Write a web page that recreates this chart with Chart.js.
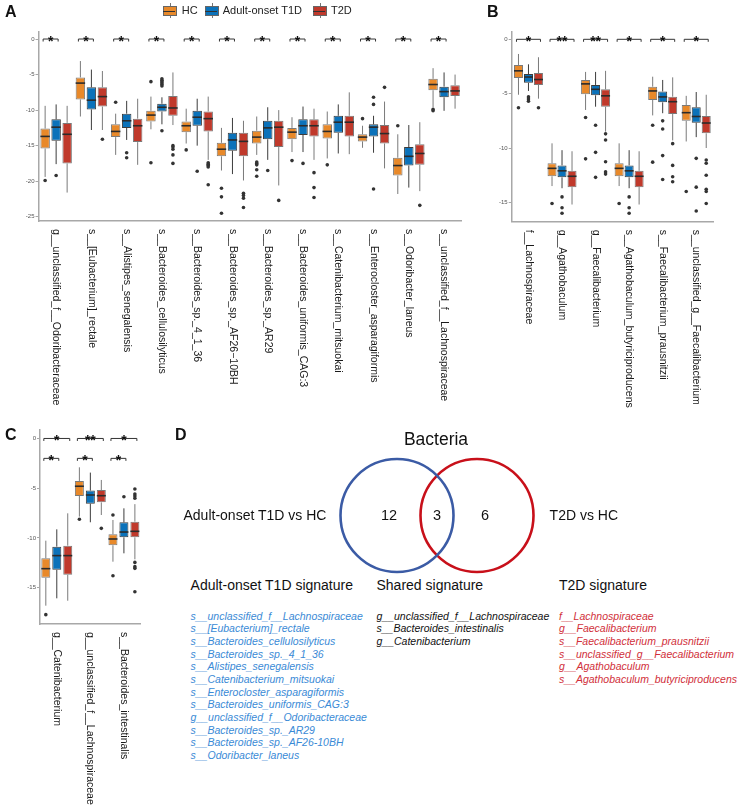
<!DOCTYPE html>
<html>
<head>
<meta charset="utf-8">
<script src="https://cdn.jsdelivr.net/npm/chart.js@4.4.1/dist/chart.umd.min.js"></script>
<style>
  body { margin: 0; background: #fff; font-family: "Liberation Sans", Arial, sans-serif; }
  #page { position: relative; width: 738px; height: 806px; overflow: hidden; }
  canvas { position: absolute; }
  .t { position: absolute; white-space: nowrap; color: #111; }
  .panel { font-weight: bold; font-size: 16px; line-height: 18px; }
  .leg { font-size: 11px; line-height: 13px; color: #222; }
  .icon { position: absolute; width: 14px; height: 15px; }
  .icon .wh { position: absolute; left: 6.5px; top: 0; width: 1px; height: 15px; background: #777; }
  .icon .bx { position: absolute; left: 0; top: 3px; width: 12px; height: 8px; border: 1px solid #666; }
  .icon .md { position: absolute; left: 0; top: 3.5px; width: 12px; height: 1.5px; background: #333; }
  .list { font-style: italic; font-size: 10.5px; line-height: 12.65px; }
</style>
</head>
<body>
<div id="page">
  <canvas id="chartA" width="480" height="430" style="left:0;top:0"></canvas>
  <canvas id="chartB" width="258" height="430" style="left:480px;top:0"></canvas>
  <canvas id="chartC" width="160" height="381" style="left:0;top:425px"></canvas>
  <canvas id="chartD" width="280" height="121" style="left:297px;top:455px"></canvas>
</div>
<script>
// ---- data (log abundance) ----
const groups = ['HC', 'Adult-onset T1D', 'T2D'];
const groupColors = ['#E8892A', '#0B72BA', '#C0392B'];
const groupLines = ['#7a7a7a', '#3c3c3c', '#7a7a7a'];

const catsA = ['g__unclassified_f__Odoribacteraceae', 's__[Eubacterium]_rectale', 's__Alistipes_senegalensis',
  's__Bacteroides_cellulosilyticus', 's__Bacteroides_sp._4_1_36', 's__Bacteroides_sp._AF26\u221210BH',
  's__Bacteroides_sp._AR29', 's__Bacteroides_uniformis_CAG:3', 's__Catenibacterium_mitsuokai',
  's__Enterocloster_asparagiformis', 's__Odoribacter_laneus', 's__unclassified_f__Lachnospiraceae'];
// [lower whisker, q1, median, q3, upper whisker]
const hcA = [[-19.4,-15.4,-13.7,-12.6,-9.4],[-10.9,-8.5,-6.2,-5.4,-3.1],[-16.3,-13.8,-13.0,-12.0,-10.5],
  [-12.7,-11.6,-10.7,-10.1,-8.1],[-14.7,-13.1,-12.2,-11.6,-9.8],[-18.5,-16.5,-15.5,-14.6,-12.5],
  [-16.3,-14.7,-13.8,-12.9,-10.9],[-15.9,-14.1,-13.1,-12.5,-11.0],[-16.8,-14.0,-13.0,-12.0,-10.2],
  [-15.3,-14.4,-13.8,-13.4,-12.2],[-21.8,-19.2,-17.8,-16.7,-13.4],[-9.6,-7.2,-6.4,-5.6,-4.1]];
const t1dA = [[-17.6,-14.3,-12.4,-11.3,-9.2],[-12.8,-9.9,-8.6,-6.8,-4.3],[-14.2,-12.5,-11.5,-10.5,-8.7],
  [-12.0,-10.2,-9.6,-9.1,-8.2],[-15.0,-12.2,-11.0,-10.1,-8.4],[-19.0,-15.7,-14.2,-13.2,-11.1],
  [-17.0,-14.1,-12.5,-11.5,-9.6],[-15.9,-13.5,-12.2,-11.3,-9.5],[-16.1,-13.2,-11.7,-10.8,-9.2],
  [-16.0,-13.7,-12.4,-12.0,-10.8],[-20.9,-17.8,-16.5,-15.2,-12.1],[-10.1,-8.2,-7.4,-6.7,-4.7]];
const t2dA = [[-21.6,-17.5,-13.4,-11.8,-9.4],[-12.8,-9.5,-8.1,-6.8,-4.5],[-17.7,-14.5,-12.2,-11.2,-8.4],
  [-12.1,-10.8,-9.7,-8.0,-4.7],[-17.0,-13.0,-11.2,-10.2,-8.1],[-19.9,-16.5,-14.4,-13.2,-11.5],
  [-20.6,-15.2,-12.4,-11.5,-10.0],[-17.0,-13.7,-12.2,-11.3,-9.8],[-16.2,-13.7,-11.7,-10.8,-7.5],
  [-18.2,-14.7,-13.3,-12.1,-8.8],[-21.4,-17.7,-16.1,-14.8,-11.7],[-9.8,-8.0,-7.3,-6.5,-5.0]];
const hcOutA = [[-19.9],[],[-8.9],[-6.0,-17.4],[-15.6],[-21.0,-22.2,-24.5],[-17.3,-17.5,-17.7,-18.4,-19.3],
  [-17.1],[-17.7],[-11.2],[-12.2],[-9.9,-10.1]];
const t1dOutA = [[-19.2],[],[-16.0,-16.7],[-5.6,-5.8,-6.0,-6.2,-6.4,-6.6,-12.9],[-18.6],[],[-18.5],
  [-17.5],[],[-8.2,-9.2,-21.1],[],[]];
const t2dOutA = [[],[-14.1],[],[-15.0,-15.2,-15.5,-16.3,-17.5],[-17.4,-17.6,-17.8,-18.0,-20.5],
  [-21.7,-22.0,-22.4,-23.7],[-22.7],[-18.8,-20.9,-22.3],[],[-6.8],[-23.4],[]];
const sigA = ['*','*','*','*','*','*','*','*','*','*','*','*'];
const ticksA = [0, -5, -10, -15, -20, -25];

const catsB = ['f__Lachnospiraceae', 'g__Agathobaculum', 'g__Faecalibacterium',
  's__Agathobaculum_butyriciproducens', 's__Faecalibacterium_prausnitzii', 's__unclassified_g__Faecalibacterium'];
const hcB = [[-5.1,-3.56,-2.9,-2.36,-1.35],[-13.5,-12.6,-11.87,-11.4,-9.57],[-6.5,-5.06,-4.1,-3.74,-3.0],
  [-13.5,-12.6,-11.87,-11.4,-9.57],[-7.0,-5.58,-4.75,-4.36,-3.44],[-9.4,-7.5,-6.75,-6.04,-5.2]];
const t1dB = [[-4.75,-4.0,-3.47,-3.2,-2.3],[-13.7,-12.7,-12.1,-11.6,-10.2],[-6.2,-5.15,-4.6,-4.2,-3.0],
  [-13.7,-12.7,-12.1,-11.6,-10.2],[-6.8,-5.8,-5.3,-4.8,-3.74],[-9.0,-7.67,-7.1,-6.26,-4.85]];
const t2dB = [[-5.46,-4.2,-3.7,-3.1,-1.65],[-15.2,-13.6,-12.6,-12.1,-10.3],[-8.5,-6.2,-5.2,-4.6,-2.9],
  [-15.2,-13.6,-12.6,-12.1,-10.3],[-9.3,-6.87,-5.74,-5.28,-3.5],[-10.0,-8.65,-7.7,-7.05,-5.1]];
const hcOutB = [[-6.3],[-15.1],[-7.2,-11.0],[-15.1],[-7.9,-11.3],[-14.0]];
const t1dOutB = [[-5.3,-5.5,-5.7],[-14.5,-15.5,-16.0],[-7.9,-10.4,-12.7],[-14.5,-15.5,-16.0],
  [-7.5,-8.25,-10.7,-12.9],[-10.95,-13.6,-15.8]];
const t2dOutB = [[-6.3],[],[-8.7,-9.26,-11.26,-12.2,-12.4],[],[-9.6,-11.6,-12.64,-13.1],
  [-11.1,-11.4,-12.5,-13.8,-14.0,-15.1]];
const sigB = ['*','**','**','*','*','*'];
const ticksB = [0, -5, -10, -15];

const catsC = ['g__Catenibacterium', 'g__unclassified_f__Lachnospiraceae', 's__Bacteroides_intestinalis'];
const hcC = [[-16.8,-14.0,-13.08,-12.04,-10.27],[-7.85,-5.78,-4.8,-4.27,-2.9],[-12.38,-10.73,-10.1,-9.63,-8.19]];
const t1dC = [[-16.06,-13.2,-11.77,-10.87,-9.13],[-8.42,-6.55,-5.68,-5.24,-3.43],[-11.54,-9.93,-9.4,-8.43,-7.02]];
const t2dC = [[-16.3,-13.7,-11.77,-10.77,-7.52],[-7.69,-6.42,-5.75,-5.18,-4.17],[-12.14,-9.93,-9.33,-8.36,-6.6]];
const hcOutC = [[-17.7],[-8.12],[-7.69,-13.8]];
const t1dOutC = [[],[],[-5.85]];
const t2dOutC = [[],[-9.03],[-5.07,-5.58,-5.78,-6.0,-12.45,-12.88,-13.05,-15.4]];
const sigC_T2D = ['*','**','*'];
const sigC_T1D = ['*','*','*'];
const ticksC = [0, -5, -10, -15];

const vennSets = ['Adult-onset T1D vs HC', 'T2D vs HC'];
const vennCenters = [-1, 1];
const vennColors = ['#3B5BA5', '#C8101A'];
const vennCounts = [12, 3, 6];
const vennCountX = [-1.2, 0, 1.2];

const sigT1D = ['s__unclassified_f__Lachnospiraceae', 's__[Eubacterium]_rectale', 's__Bacteroides_cellulosilyticus',
  's__Bacteroides_sp._4_1_36', 's__Alistipes_senegalensis', 's__Catenibacterium_mitsuokai',
  's__Enterocloster_asparagiformis', 's__Bacteroides_uniformis_CAG:3', 'g__unclassified_f__Odoribacteraceae',
  's__Bacteroides_sp._AR29', 's__Bacteroides_sp._AF26-10BH', 's__Odoribacter_laneus'];
const sigShared = ['g__unclassified_f__Lachnospiraceae', 's__Bacteroides_intestinalis', 'g__Catenibacterium'];
const sigT2D = ['f__Lachnospiraceae', 'g__Faecalibacterium', 's__Faecalibacterium_prausnitzii',
  's__unclassified_g__Faecalibacterium', 'g__Agathobaculum', 's__Agathobaculum_butyriciproducens'];

const FONT = '"Liberation Sans", Arial, sans-serif';

// ---- box plot plugin: whiskers, medians, outliers, brackets, rotated labels ----
const boxPlugin = {
    id: 'boxes',
    beforeDatasetsDraw(chart, args, opts) {
        const ctx = chart.ctx;
        const y = chart.scales.y;
        ctx.save();
        opts.stats.forEach((stats, i) => {
            const meta = chart.getDatasetMeta(i);
            ctx.strokeStyle = groupLines[i];
            ctx.lineWidth = 1;
            meta.data.forEach((el, j) => {
                const s = stats[j];
                ctx.beginPath();
                ctx.moveTo(el.x, y.getPixelForValue(s[0]));
                ctx.lineTo(el.x, y.getPixelForValue(s[1]));
                ctx.moveTo(el.x, y.getPixelForValue(s[3]));
                ctx.lineTo(el.x, y.getPixelForValue(s[4]));
                ctx.stroke();
            });
        });
        ctx.restore();
    },
    afterDatasetsDraw(chart, args, opts) {
        const ctx = chart.ctx;
        const x = chart.scales.x;
        const y = chart.scales.y;
        ctx.save();
        opts.stats.forEach((stats, i) => {
            const meta = chart.getDatasetMeta(i);
            meta.data.forEach((el, j) => {
                const s = stats[j];
                const py = y.getPixelForValue(s[2]);
                ctx.strokeStyle = '#2b2b2b';
                ctx.lineWidth = 1.6;
                ctx.beginPath();
                ctx.moveTo(el.x - el.width / 2, py);
                ctx.lineTo(el.x + el.width / 2, py);
                ctx.stroke();
                ctx.fillStyle = '#333';
                opts.outliers[i][j].forEach(v => {
                    ctx.beginPath();
                    ctx.arc(el.x, y.getPixelForValue(v), 1.8, 0, Math.PI * 2);
                    ctx.fill();
                });
            });
        });

        // significance brackets
        opts.brackets.forEach(b => {
            const m0 = chart.getDatasetMeta(b.from);
            const m1 = chart.getDatasetMeta(b.to);
            const py = y.getPixelForValue(b.at);
            b.labels.forEach((lab, j) => {
                const x0 = m0.data[j].x - 2;
                const x1 = m1.data[j].x + 2;
                ctx.strokeStyle = '#333';
                ctx.lineWidth = 1;
                ctx.beginPath();
                ctx.moveTo(x0, py + 2.5);
                ctx.lineTo(x0, py);
                ctx.lineTo(x1, py);
                ctx.lineTo(x1, py + 2.5);
                ctx.stroke();
                ctx.fillStyle = '#111';
                ctx.font = 'bold 14px ' + FONT;
                ctx.textAlign = 'center';
                ctx.textBaseline = 'alphabetic';
                ctx.fillText(lab, (x0 + x1) / 2, py + 7);
            });
        });

        // category labels, rotated clockwise
        ctx.fillStyle = '#1a1a1a';
        ctx.font = '10.5px ' + FONT;
        ctx.textAlign = 'left';
        ctx.textBaseline = 'middle';
        opts.labels.forEach((lab, j) => {
            ctx.save();
            ctx.translate(x.getPixelForValue(j), chart.chartArea.bottom + 8);
            ctx.rotate(Math.PI / 2);
            ctx.fillText(lab, 0, 0);
            ctx.restore();
        });
        ctx.restore();
    }
};

function makeBoxChart(id, cats, stats, outliers, brackets, yTicks, yMin, yMax, pad, yWidth, xHeight, catPct, barPct) {
    const datasets = stats.map((s, i) => ({
        label: groups[i],
        data: s.map(r => [r[1], r[3]]),
        backgroundColor: groupColors[i],
        borderColor: groupLines[i],
        borderWidth: 1,
        borderSkipped: false,
        categoryPercentage: catPct,
        barPercentage: barPct
    }));
    return new Chart(document.getElementById(id), {
        type: 'bar',
        data: { labels: cats, datasets: datasets },
        plugins: [boxPlugin],
        options: {
            responsive: false,
            animation: false,
            layout: { padding: pad, autoPadding: false },
            plugins: {
                legend: { display: false },
                tooltip: { enabled: false },
                boxes: { stats: stats, outliers: outliers, brackets: brackets, labels: cats }
            },
            scales: {
                x: {
                    grid: { display: false },
                    border: { display: true, color: '#a8a8a8', width: 1.5 },
                    ticks: { display: false },
                    afterFit(s) { s.height = xHeight; }
                },
                y: {
                    min: yMin,
                    max: yMax,
                    afterBuildTicks(s) { s.ticks = yTicks.map(v => ({ value: v })); },
                    grid: { display: true, drawOnChartArea: false, drawTicks: true, tickLength: 3, color: '#a8a8a8' },
                    border: { display: true, color: '#a8a8a8', width: 1.5 },
                    ticks: { font: { size: 6, family: FONT }, color: '#555', padding: 1 },
                    afterFit(s) { s.width = yWidth; }
                }
            }
        }
    });
}

makeBoxChart('chartA', catsA, [hcA, t1dA, t2dA], [hcOutA, t1dOutA, t2dOutA],
    [{ from: 0, to: 1, at: 0, labels: sigA }], ticksA, -25.6, 1.03,
    { left: 0, top: 31.7, right: 18.3, bottom: 0 }, 38.5, 209, 0.936, 0.86);

makeBoxChart('chartB', catsB, [hcB, t1dB, t2dB], [hcOutB, t1dOutB, t2dOutB],
    [{ from: 0, to: 2, at: 0, labels: sigB }], ticksB, -16.78, 0.7,
    { left: 0, top: 31.7, right: 25, bottom: 0 }, 31.7, 208.3, 0.894, 0.9);

makeBoxChart('chartC', catsC, [hcC, t1dC, t2dC], [hcOutC, t1dOutC, t2dOutC],
    [{ from: 0, to: 2, at: 0, labels: sigC_T2D }, { from: 0, to: 1, at: -2, labels: sigC_T1D }],
    ticksC, -18.64, 0.85, { left: 0, top: 5, right: 19.3, bottom: 0 }, 40, 182, 0.98, 0.82);

// ---- Venn diagram ----
const vennPlugin = {
    id: 'vennCounts',
    afterDatasetsDraw(chart) {
        const ctx = chart.ctx;
        ctx.save();
        ctx.fillStyle = '#111';
        ctx.font = '14.5px ' + FONT;
        ctx.textAlign = 'center';
        ctx.textBaseline = 'middle';
        vennCounts.forEach((c, i) => {
            ctx.fillText(String(c), chart.scales.x.getPixelForValue(vennCountX[i]), chart.scales.y.getPixelForValue(0));
        });
        ctx.restore();
    }
};

new Chart(document.getElementById('chartD'), {
    type: 'scatter',
    data: {
        datasets: vennSets.map((name, i) => ({
            label: name,
            data: [{ x: vennCenters[i], y: 0 }],
            pointRadius: 56.5,
            pointBorderWidth: 2.6,
            borderColor: vennColors[i],
            backgroundColor: 'rgba(0,0,0,0)',
            clip: false
        }))
    },
    plugins: [vennPlugin],
    options: {
        responsive: false,
        animation: false,
        layout: { padding: 0, autoPadding: false },
        plugins: { legend: { display: false }, tooltip: { enabled: false } },
        scales: {
            x: { display: false, min: -3.5, max: 3.5 },
            y: { display: false, min: -1, max: 1 }
        }
    }
});

// ---- html text: panel letters, legend, venn captions, signature lists ----
const page = document.getElementById('page');
function addText(txt, left, centerY, cls, size, extra) {
    const d = document.createElement('div');
    d.className = 't ' + cls;
    d.textContent = txt;
    d.style.left = left + 'px';
    d.style.top = (centerY - size * 0.6) + 'px';
    d.style.fontSize = size + 'px';
    d.style.lineHeight = (size * 1.2) + 'px';
    if (extra) Object.assign(d.style, extra);
    page.appendChild(d);
    return d;
}
addText('A', 5, 12, 'panel', 16);
addText('B', 487, 12, 'panel', 16);
addText('C', 5, 435, 'panel', 16);
addText('D', 175, 435, 'panel', 16);

const legendIconX = [163.3, 205, 313.3];
const legendTextX = [181.7, 222.7, 331];
groups.forEach((g, i) => {
    const ic = document.createElement('div');
    ic.className = 'icon';
    ic.style.left = legendIconX[i] + 'px';
    ic.style.top = '3px';
    ic.innerHTML = '<div class="wh"></div><div class="bx" style="background:' + groupColors[i] +
        '"></div><div class="md" style="top:7.5px"></div>';
    page.appendChild(ic);
    addText(g, legendTextX[i], 10.5, 'leg', 11);
});

addText('Bacteria', 436, 439, '', 17.5, { transform: 'translateX(-50%)' });
addText(vennSets[0], 183.5, 515, '', 14);
addText(vennSets[1], 549.6, 515, '', 14);
addText('Adult-onset T1D signature', 190.6, 585, '', 14);
addText('Shared signature', 376.5, 585, '', 14);
addText('T2D signature', 559, 585, '', 14);

const lists = [[sigT1D, 190.6, '#3A8AD6'], [sigShared, 376.5, '#111'], [sigT2D, 559, '#D12F3A']];
lists.forEach(([items, left, col]) => {
    items.forEach((s, k) => {
        addText(s, left, 616 + k * 12.65, 'list', 10.5, { color: col });
    });
});
</script>
</body>
</html>
